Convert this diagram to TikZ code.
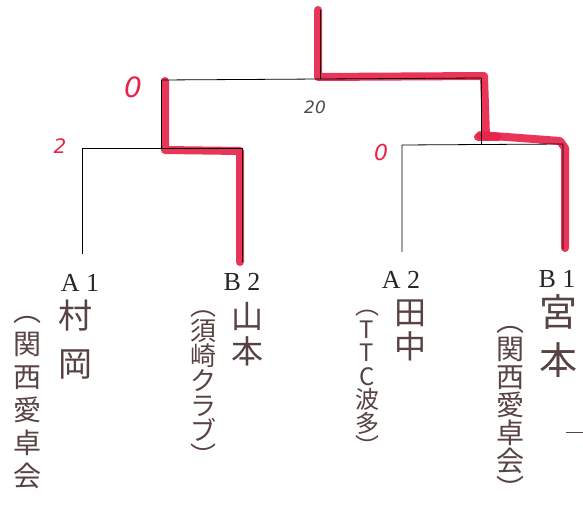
\documentclass[tikz,border=0pt]{standalone}
\usepackage{fontspec}
\setmainfont{Liberation Serif}
\newfontfamily\jpf{Noto Sans CJK JP}
\newfontfamily\scf{DejaVu Sans}
\definecolor{redm}{RGB}{232,36,76}
\definecolor{handc}{RGB}{88,66,66}
\begin{document}
\begin{tikzpicture}[x=1pt,y=-1pt,
  bline/.style={line width=0.8pt, black},
  redhl/.style={line width=8pt, redm, line cap=round, line join=round, opacity=0.92},
  lab/.style={font=\fontsize{26}{26}\selectfont, inner sep=0, anchor=base, text=black!85},
  score/.style={font=\scf\itshape, text=redm, inner sep=0},
  col/.style={text=handc, align=center, inner sep=0, anchor=north}]
\fill[white] (0,0) rectangle (583,524);
\useasboundingbox (0,0) rectangle (583,524);
% bracket coordinates
\coordinate (top) at (320,10);
\coordinate (fC) at (320,79);
\coordinate (fL) at (161,80);
\coordinate (fR) at (481,78);
\coordinate (sLl) at (82,148);
\coordinate (sLc) at (161,148);
\coordinate (sLr) at (242,148);
\coordinate (sRl) at (402,145);
\coordinate (sRc) at (481,145);
\coordinate (sRr) at (563,144);
\coordinate (a1) at (82,254);
\coordinate (b2) at (242,262);
\coordinate (a2) at (402,252);
\coordinate (b1) at (563,249);
% red highlights
\draw[redhl] (318,10) -- (318,77) -- (484,76) -- (486,137);
\draw[redhl] (478,137) -- (498,137);
\draw[redhl] (480,135) -- (560,141) -- (565,148) -- (565,248);
\draw[redhl] (165,81) -- (165,150) -- (240,151) -- (240,262);
% black bracket
\draw[bline] (top) -- (fC);
\draw[bline] (fL) -- (fR);
\draw[bline] (fL) -- (sLc);
\draw[bline] (fR) -- (sRc);
\draw[bline] (a1) -- (sLl) -- (sLr) -- (b2);
\draw[bline] (a2) -- (sRl) -- (sRr) -- (b1);
% scores
\node[score, font=\scf\itshape\fontsize{28}{28}\selectfont] (s1) at (133,87) {0};
\node[score, font=\scf\itshape\fontsize{20}{20}\selectfont] (s2) at (60,146) {2};
\node[score, font=\scf\itshape\fontsize{22}{22}\selectfont] (s3) at (381,152) {0};
\node[score, text=black!70, font=\scf\itshape\fontsize{17}{17}\selectfont] (s4) at (315,107) {20};
% labels
\node[lab] (la1) at (80,291) {A 1};
\node[lab] (lb2) at (242,290) {B 2};
\node[lab] (la2) at (401,288) {A 2};
\node[lab] (lb1) at (557,287) {B 1};
% names (vertical)
\node[col, font=\jpf\fontsize{34}{48}\selectfont] (n1) at (75,300) {村\\岡};
\node[col, font=\jpf\fontsize{28}{33}\selectfont] (c1) at (27,316) {︵\\関\\西\\愛\\卓\\会};
\node[col, font=\jpf\fontsize{32}{35}\selectfont] (n2) at (247,302) {山\\本};
\node[col, font=\jpf\fontsize{26}{25}\selectfont] (c2) at (203,310) {︵\\須\\崎\\ク\\ラ\\ブ\\︶};
\node[col, font=\jpf\fontsize{32}{34}\selectfont] (n3) at (410,300) {田\\中};
\node[col, font=\jpf\fontsize{24}{23.5}\selectfont] (c3) at (367,310) {︵\\T\\T\\C\\波\\多\\︶};
\node[col, font=\jpf\fontsize{38}{48}\selectfont] (n4) at (558,294) {宮\\本};
\node[col, font=\jpf\fontsize{28}{28}\selectfont] (c4) at (510,326) {︵\\関\\西\\愛\\卓\\会\\︶};
\draw[handc, line width=1pt] (566,432) -- (583,432);
\end{tikzpicture}
\end{document}
